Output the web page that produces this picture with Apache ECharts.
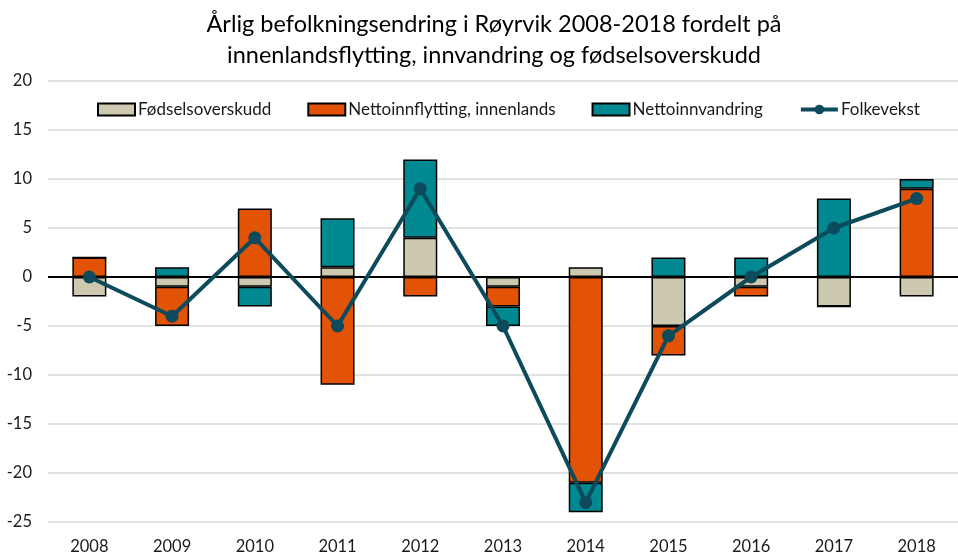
<!DOCTYPE html>
<html>
<head>
<meta charset="utf-8">
<script src="https://cdn.jsdelivr.net/npm/echarts@6/dist/echarts.min.js"></script>
<style>html,body{margin:0;padding:0;background:#fff}#c{width:958px;height:555px}</style>
</head>
<body>
<div id="c"></div>
<script>
const years = ['2008','2009','2010','2011','2012','2013','2014','2015','2016','2017','2018'];
const fodselsoverskudd = [-2, -1, -1, 1, 4, -1, 1, -5, -1, -3, -2];
const innenlands = [2, -4, 7, -11, -2, -2, -21, -3, -1, 0, 9];
const innvandring = [0, 1, -2, 5, 8, -2, -3, 2, 2, 8, 1];
const folkevekst = [0, -4, 4, -5, 9, -5, -23, -6, 0, 5, 8];
const yTicks = {min: -25, max: 20, interval: 5};

const FONT = 'Lato';
const chart = echarts.init(document.getElementById('c'), null, {renderer: 'canvas'});
function barSeries(name, data, color) {
  return {
    name, type: 'bar', stack: 'total', data, barWidth: 34,
    itemStyle: {color, borderColor: '#000', borderWidth: 1.5},
    emphasis: {disabled: true}
  };
}
const series = [
  barSeries('Fødselsoverskudd', fodselsoverskudd, '#CDC9B0'),
  barSeries('Nettoinnflytting, innenlands', innenlands, '#E25305'),
  barSeries('Nettoinnvandring', innvandring, '#008990'),
  {
    name: 'Folkevekst', type: 'line', data: folkevekst, z: 5,
    symbol: 'circle', symbolSize: 13,
    lineStyle: {color: '#0C4A5C', width: 4},
    itemStyle: {color: '#0C4A5C'},
    emphasis: {disabled: true},
    markLine: {
      silent: true, symbol: 'none', label: {show: false},
      lineStyle: {color: '#000', width: 2, type: 'solid'},
      data: [{yAxis: 0}], z: 1
    }
  }
];
chart.setOption({
  animation: false,
  backgroundColor: '#fff',
  title: {
    text: 'Årlig befolkningsendring i Røyrvik 2008-2018 fordelt på\ninnenlandsflytting, innvandring og fødselsoverskudd',
    left: 494, top: 9, padding: 0, textAlign: 'center',
    textStyle: {fontFamily: FONT, fontSize: 23.5, fontWeight: 'normal', color: '#000', lineHeight: 31}
  },
  legend: {
    left: 97, top: 101, padding: 0, itemGap: 36, itemWidth: 37, itemHeight: 12,
    textStyle: {fontFamily: FONT, fontSize: 17, color: '#1a1a1a', padding: [0,0,0,-2]},
    data: [
      {name: 'Fødselsoverskudd', icon: 'rect'},
      {name: 'Nettoinnflytting, innenlands', icon: 'rect'},
      {name: 'Nettoinnvandring', icon: 'rect'},
      {name: 'Folkevekst', lineStyle: {width: 4, color: '#0C4A5C'}}
    ]
  },
  grid: {left: 48, top: 81, width: 924, height: 441, containLabel: false},
  xAxis: {
    type: 'category', data: years,
    axisLine: {show: false, onZero: false}, axisTick: {show: false},
    axisLabel: {fontFamily: FONT, fontSize: 16.5, color: '#1a1a1a', margin: 16}
  },
  yAxis: {
    type: 'value', min: yTicks.min, max: yTicks.max, interval: yTicks.interval,
    axisLine: {show: false}, axisTick: {show: false},
    splitLine: {lineStyle: {color: '#D9D9D9', width: 1.5}},
    axisLabel: {fontFamily: FONT, fontSize: 16.5, color: '#1a1a1a', margin: 16}
  },
  series
});
</script>
</body>
</html>
